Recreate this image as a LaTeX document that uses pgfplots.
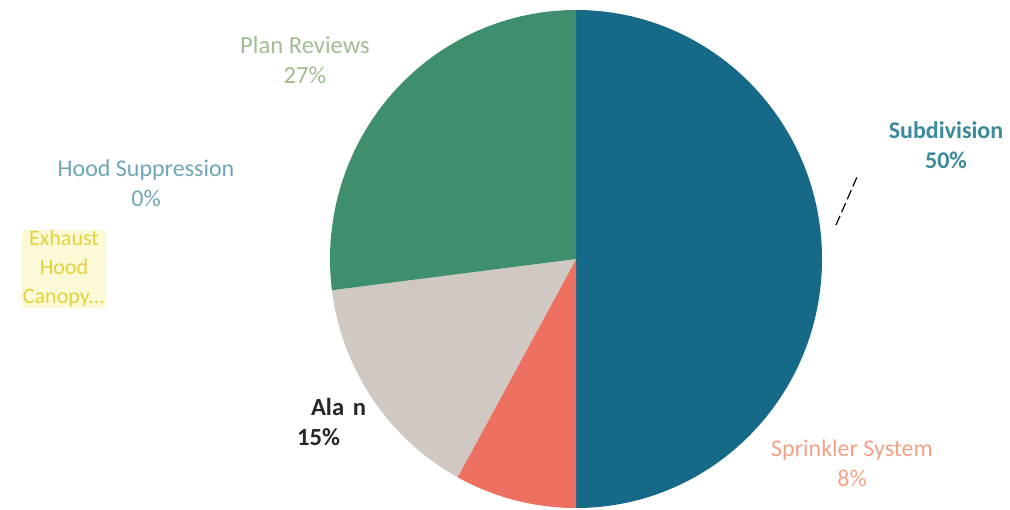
\documentclass[border=0pt]{standalone}
\usepackage{pgfplots}
\pgfplotsset{compat=1.18}
\usepackage{fontspec}
\setmainfont{Carlito}
\definecolor{cSub}{RGB}{22,106,136}
\definecolor{cSpr}{RGB}{238,112,96}
\definecolor{cAla}{RGB}{208,201,195}
\definecolor{cPlan}{RGB}{62,143,110}
\definecolor{tSub}{RGB}{58,138,156}
\definecolor{tPlan}{RGB}{158,189,146}
\definecolor{tHood}{RGB}{111,166,181}
\definecolor{tSpr}{RGB}{244,162,134}
\definecolor{tExh}{RGB}{226,210,60}
\definecolor{tExhBg}{RGB}{252,249,215}
\begin{document}
\begin{tikzpicture}
\begin{axis}[
  width=505pt, height=254.5pt, scale only axis,
  xmin=0, xmax=1010, ymin=0, ymax=509,
  hide axis, clip=false,
  name=ax,
]
% slices: Subdivision 50, Sprinkler System 8, Alarm 15, Plan Reviews 27, Hood Suppression 0, Exhaust Hood Canopy 0
% start at 90 deg, clockwise, 3.6 deg per percent
\fill[cSub]  (axis cs:576,250) -- ([shift={(90:123pt and 124.5pt)}]axis cs:576,250)
   arc[start angle=90, end angle=-90, x radius=123pt, y radius=124.5pt] -- cycle;
\fill[cSpr]  (axis cs:576,250) -- ([shift={(-90:123pt and 124.5pt)}]axis cs:576,250)
   arc[start angle=-90, end angle=-118.8, x radius=123pt, y radius=124.5pt] -- cycle;
\fill[cAla]  (axis cs:576,250) -- ([shift={(-118.8:123pt and 124.5pt)}]axis cs:576,250)
   arc[start angle=-118.8, end angle=-172.8, x radius=123pt, y radius=124.5pt] -- cycle;
\fill[cPlan] (axis cs:576,250) -- ([shift={(-172.8:123pt and 124.5pt)}]axis cs:576,250)
   arc[start angle=-172.8, end angle=-270, x radius=123pt, y radius=124.5pt] -- cycle;
% leader line fragment
\draw[black, line width=0.6pt, dash pattern=on 5pt off 2pt] (axis cs:836,284) -- (axis cs:857,332);
% labels
\node[text=tPlan, font=\fontsize{12.3}{15}\selectfont, align=center] at (axis cs:305,449) {Plan Reviews\\27\%};
\node[text=tHood, font=\fontsize{12}{15}\selectfont, align=center] at (axis cs:146,326) {Hood Suppression\\0\%};
\node[text=tExh, fill=tExhBg, inner sep=0.5pt, font=\fontsize{11}{14.5}\selectfont, align=center] at (axis cs:64,240) {Exhaust\\Hood\\Canopy...};
\node[text=black!85, font=\bfseries\fontsize{12.3}{15}\selectfont, align=left, anchor=west] at (axis cs:290,87) {\hspace{7pt}Ala\phantom{r}n\\15\%};
\node[text=tSub, font=\bfseries\fontsize{12}{15}\selectfont, align=center] at (axis cs:946,364) {Subdivision\\50\%};
\node[text=tSpr, font=\fontsize{12}{15}\selectfont, align=center] at (axis cs:852,46) {Sprinkler System\\8\%};
\end{axis}
\pgfresetboundingbox
\useasboundingbox (ax.south west) rectangle (ax.north east);
\end{tikzpicture}
\end{document}
